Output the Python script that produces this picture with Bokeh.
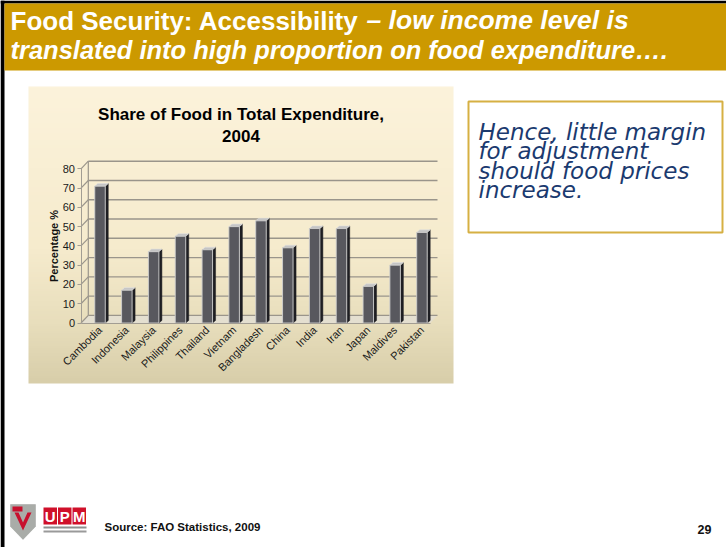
import numpy as np
from bokeh.plotting import figure
from bokeh.models import (Range1d, LinearAxis, FixedTicker, Label, BoxAnnotation,
                          PolyAnnotation)
from bokeh.embed import file_html
from bokeh.resources import INLINE

# ---------------- data ----------------
countries = ["Cambodia", "Indonesia", "Malaysia", "Philippines", "Thailand", "Vietnam",
             "Bangladesh", "China", "India", "Iran", "Japan", "Maldives", "Pakistan"]
food_share = [71, 17, 37, 45, 38, 50, 53, 39, 49, 49, 19, 30, 47]
y_ticks = [0, 10, 20, 30, 40, 50, 60, 70, 80]
chart_title = ["Share of Food in Total Expenditure,", "2004"]
y_label = "Percentage %"
header_bold = "Food Security: Accessibility"
header_italic_1 = "\u2013 low income level is"
header_italic_2 = "translated into high proportion on food expenditure\u2026."
note_lines = ["Hence, little margin", "for adjustment", "should food prices", "increase."]
source_text = "Source: FAO Statistics, 2009"
page_number = "29"
logo_letters = ["U", "P", "M"]

# ---------------- layout (page pixels) ----------------
W, H = 726, 547
BOX_L, BOX_R, BOX_T, BOX_B = 28, 453, 86, 383   # beige chart box
X0_PX, X_STEP_PX = 99.5, 26.83                  # first category centre, category step
Y0_PX, Y_UNIT_PX = 322.5, 1.9275                # zero line, pixels per percent


def dx(px):
    return (px - X0_PX) / X_STEP_PX


def dy(py):
    return (Y0_PX - py) / Y_UNIT_PX


AXIS_X = dx(80.5)
GRID_END = dx(437)
WALL_DX = 7.3 / X_STEP_PX
WALL_DY = 7.6 / Y_UNIT_PX
BAR_W = 10.5 / X_STEP_PX
SIDE_DX = 3.0 / X_STEP_PX
SIDE_DY = 2.6 / Y_UNIT_PX

p = figure(width=W, height=H, output_backend="svg", toolbar_location=None,
           x_range=Range1d(dx(0), dx(W)), y_range=Range1d(dy(H), dy(0)),
           x_axis_type=None, y_axis_type=None, min_border=0,
           min_border_left=0, min_border_right=0, min_border_top=0, min_border_bottom=0)
p.border_fill_color = "white"
p.background_fill_color = "white"
p.outline_line_color = None

# background gradient of the chart box
n = 120
frac = np.linspace(0.0, 1.0, n)
stop_f = [0.0, 0.2, 0.45, 1.0]
stop_c = np.array([[216, 206, 170], [232, 222, 188], [246, 235, 205], [252, 243, 219]])
img = np.zeros((n, 1), dtype=np.uint32)
view = img.view(dtype=np.uint8).reshape((n, 1, 4))
for k in range(3):
    view[:, 0, k] = np.interp(frac, stop_f, stop_c[:, k]).astype(np.uint8)
view[:, 0, 3] = 255
p.image_rgba(image=[img], x=dx(BOX_L), y=dy(BOX_B), dw=dx(BOX_R) - dx(BOX_L),
             dh=dy(BOX_T) - dy(BOX_B), level="image")

# 3D floor and back wall grid
grid_col = "#9A958B"
p.patch(x=[AXIS_X, AXIS_X + WALL_DX, GRID_END, GRID_END - WALL_DX],
        y=[0, WALL_DY, WALL_DY, 0], fill_color="#E4DFD0", line_color=None)
nt = len(y_ticks)
p.segment(x0=[AXIS_X + WALL_DX] * nt, y0=[t + WALL_DY for t in y_ticks],
          x1=[GRID_END] * nt, y1=[t + WALL_DY for t in y_ticks],
          line_color=grid_col, line_width=1.4)
p.segment(x0=[AXIS_X] * nt, y0=y_ticks, x1=[AXIS_X + WALL_DX] * nt,
          y1=[t + WALL_DY for t in y_ticks], line_color=grid_col, line_width=1.2)
p.segment(x0=[AXIS_X + WALL_DX], y0=[WALL_DY], x1=[AXIS_X + WALL_DX],
          y1=[max(y_ticks) + WALL_DY], line_color=grid_col, line_width=1.2)

# 3D bars
idx = list(range(len(countries)))
side_xs = [[i + BAR_W / 2, i + BAR_W / 2 + SIDE_DX, i + BAR_W / 2 + SIDE_DX, i + BAR_W / 2]
           for i in idx]
side_ys = [[0, SIDE_DY, v + SIDE_DY, v] for v in food_share]
top_xs = [[i - BAR_W / 2, i + BAR_W / 2, i + BAR_W / 2 + SIDE_DX, i - BAR_W / 2 + SIDE_DX]
          for i in idx]
top_ys = [[v, v, v + SIDE_DY, v + SIDE_DY] for v in food_share]
p.patches(xs=side_xs, ys=side_ys, fill_color="#1E1E22", line_color="#1E1E22", line_width=0.5)
p.patches(xs=top_xs, ys=top_ys, fill_color="#C4C4C4", line_color="#E0E0E0", line_width=0.6)
p.vbar(x=idx, top=food_share, bottom=0, width=BAR_W, fill_color="#58585E",
       line_color="#CFCFCF", line_width=0.9)

# axes (placed inside the page at fixed data locations)
yaxis = LinearAxis(ticker=FixedTicker(ticks=y_ticks), fixed_location=AXIS_X,
                   bounds=(min(y_ticks), max(y_ticks)),
                   axis_label=y_label, axis_label_text_font="Liberation Sans",
                   axis_label_text_font_style="bold", axis_label_text_font_size="11px",
                   axis_label_text_color="#111111", axis_label_standoff=0,
                   major_label_text_font="Liberation Sans", major_label_text_font_size="11px",
                   major_label_text_color="#1A1A1A", major_label_standoff=2,
                   axis_line_color="#A29D93", major_tick_out=4, major_tick_in=0,
                   major_tick_line_color="#A29D93", minor_tick_out=0, minor_tick_in=0)
p.add_layout(yaxis, "left")

xaxis = LinearAxis(ticker=FixedTicker(ticks=idx), fixed_location=0,
                   bounds=(AXIS_X, GRID_END - WALL_DX),
                   major_label_overrides={i: c for i, c in zip(idx, countries)},
                   major_label_orientation=np.pi / 4,
                   major_label_text_font="Liberation Sans", major_label_text_font_size="11px",
                   major_label_text_color="#1A1A1A", major_label_standoff=5,
                   axis_line_color="#A29D93", major_tick_out=0, major_tick_in=0,
                   minor_tick_out=0, minor_tick_in=0)
p.add_layout(xaxis, "below")


# ---------------- slide decorations (screen units; frame = whole page) ----------------
def sx(px):
    return px


def sy(py):
    return H - py


def box(x0, y0, x1, y1, fill, line=None, lw=0):
    p.add_layout(BoxAnnotation(left=sx(x0), right=sx(x1), top=sy(y0), bottom=sy(y1),
                               left_units="screen", right_units="screen",
                               top_units="screen", bottom_units="screen",
                               fill_color=fill, fill_alpha=1.0 if fill else 0.0,
                               line_color=line, line_width=lw, line_alpha=1.0,
                               level="annotation"))


def label(px, py, text, size, color, style="normal", font="Liberation Sans", align="left"):
    # py is the wanted baseline; compensate the renderer's baseline offset
    p.add_layout(Label(x=sx(px), y=sy(py - 0.34 * size), x_units="screen", y_units="screen",
                       text=text, text_font=font, text_font_size=f"{size}px",
                       text_font_style=style, text_color=color, text_align=align,
                       text_baseline="alphabetic"))


# header
box(0, 0, W, 3, "#000000")
box(0, 0, 4, H, "#000000")
box(4, 3, W, 70, "#CC9900")
label(10, 29, header_bold, 26, "white", "bold")
label(366, 29, header_italic_1, 26.5, "white", "bold italic")
label(10, 58, header_italic_2, 25.5, "white", "bold italic")

# chart title
label(240.5, 120, chart_title[0], 17, "#000000", "bold", align="center")
label(240.5, 141, chart_title[1], 17, "#000000", "bold", align="center")

# note box
box(468, 101, 722, 232, "#FFFFFF", "#D6B043", 2)
for k, line in enumerate(note_lines):
    label(478, 139 + 19.5 * k, line, 23, "#1B3A6F", "italic", font="DejaVu Sans")

# logo
p.add_layout(PolyAnnotation(xs=[sx(v) for v in [10, 35, 35, 22.5, 10]],
                            ys=[sy(v) for v in [504, 504, 526, 539, 526]],
                            xs_units="screen", ys_units="screen",
                            fill_color="#A9ACA8", fill_alpha=1, line_color="#7E817D",
                            line_width=1))
p.add_layout(PolyAnnotation(xs=[sx(v) for v in [14, 22.5, 31, 27, 22.5, 18]],
                            ys=[sy(v) for v in [512, 530, 512, 512, 522, 512]],
                            xs_units="screen", ys_units="screen",
                            fill_color="#C8102E", fill_alpha=1, line_color=None))
box(12, 506, 22, 511, "#C8102E")
for k, ch in enumerate(logo_letters):
    x0 = 43 + 14.5 * k
    box(x0, 507, x0 + 13.5, 524, "#D0102A")
    label(x0 + 6.75, 521, ch, 15, "white", "bold", align="center")
box(43, 526, 86, 528, "#8E8E8E")
box(43, 530, 86, 532, "#9A9A9A")

# footer
label(104, 530, source_text, 11.5, "#111111", "bold")
label(697, 533, page_number, 12.5, "#111111", "bold")

open("out.html", "w").write(file_html(p, INLINE))
